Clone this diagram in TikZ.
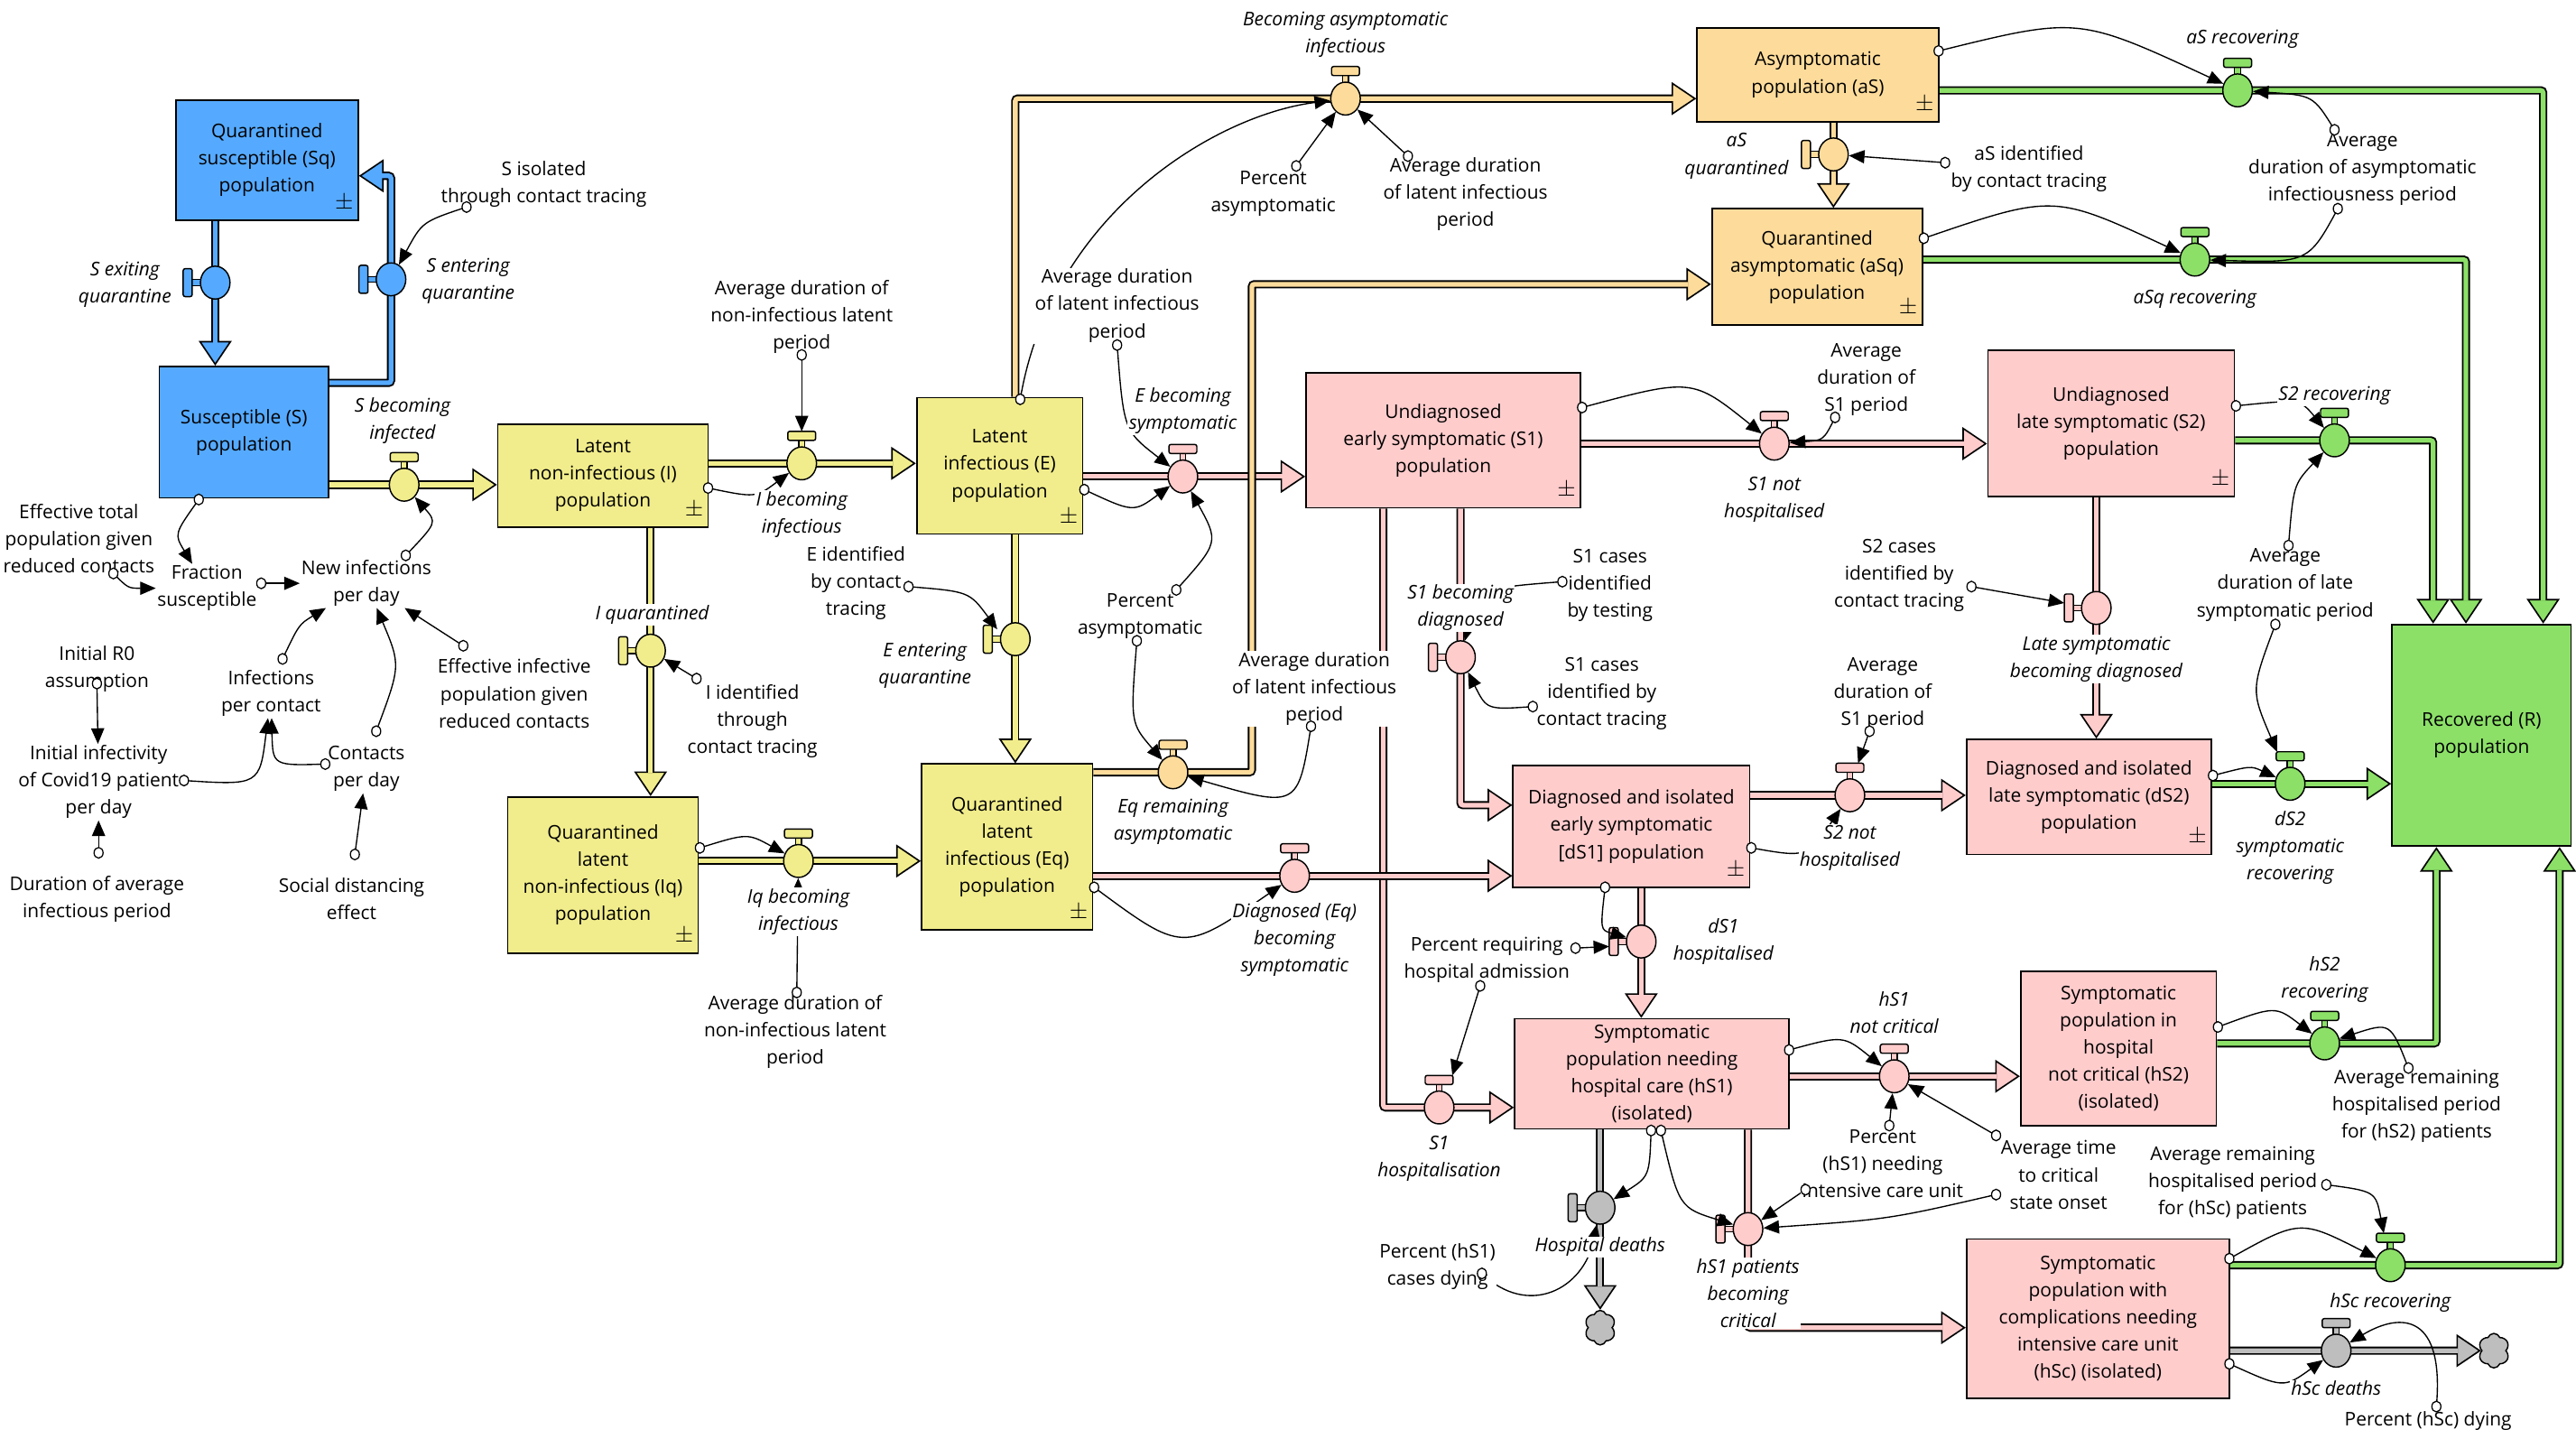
\documentclass[tikz,border=0pt]{standalone}
\usepackage{fontspec}
\setmainfont{Open Sans}
\usetikzlibrary{arrows.meta,shapes.geometric,shapes.symbols}
\pgfdeclarelayer{bg}
\pgfsetlayers{bg,main}

\definecolor{cblue}{RGB}{85,170,255}
\definecolor{cyel}{RGB}{241,237,140}
\definecolor{corg}{RGB}{253,220,155}
\definecolor{cpink}{RGB}{255,204,204}
\definecolor{cgreen}{RGB}{140,224,104}
\definecolor{cgray}{RGB}{190,190,190}

\newcommand\vfont{\fontsize{11.5}{16.5}\selectfont}
\newcommand\ffont{\fontsize{11.5}{16.5}\selectfont\itshape}

\tikzset{
 stock/.style={draw, line width=1pt, align=center, font=\vfont, inner sep=0pt},
 valve/.style={ellipse, draw, line width=0.8pt, minimum width=18pt, minimum height=20pt, inner sep=0pt},
 var/.style={align=center, font=\vfont, fill=white, inner sep=0.8pt},
 flab/.style={align=center, font=\ffont, fill=white, inner sep=0.8pt},
 link/.style={line width=0.75pt, -{Triangle[length=9.5pt,width=8pt]}},
 dot/.style={ellipse, draw, fill=white, line width=0.7pt, minimum width=5.5pt, minimum height=6.5pt, inner sep=0pt},
 pmark/.style={font=\fontsize{14}{14}\selectfont, inner sep=0pt},
 cloudy/.style={cloud, cloud puffs=6, cloud puff arc=140, aspect=1, draw, fill=cgray, line width=0.8pt, minimum width=19pt, minimum height=21pt, inner sep=0pt},
}

\newcommand\stock[7]{%
  \node[stock, fill=#6, minimum width={#4-#2}, minimum height={#5-#3}] (#1) at ({(#2+#4)/2},{(#3+#5)/2}) {#7};}
\newcommand\pmk[1]{\node[pmark] (#1-pm) at ([xshift=-9pt,yshift=11pt]#1.south east) {$\pm$};}
\newcommand\valveT[4]{%
  \draw[fill=#4, line width=0.7pt] ({#2-1.8},{#3-9}) rectangle ({#2+1.8},{#3-14.5});
  \draw[fill=#4, line width=0.8pt, rounded corners=1.2pt] ({#2-8.5},{#3-14}) rectangle ({#2+8.5},{#3-19.5});
  \node[valve, fill=#4] (#1) at (#2,#3) {};}
\newcommand\valveL[4]{%
  \draw[fill=#4, line width=0.7pt] ({#2-8},{#3-1.8}) rectangle ({#2-14.5},{#3+1.8});
  \draw[fill=#4, line width=0.8pt, rounded corners=1.2pt] ({#2-14},{#3-8.5}) rectangle ({#2-19.5},{#3+8.5});
  \node[valve, fill=#4] (#1) at (#2,#3) {};}
\newcommand\flowpipe[2]{%
  \draw[line width=5pt, black, rounded corners=1.5pt, -{Triangle[length=15pt,width=20pt,fill=#1,line width=0.9pt]}] #2;
  \draw[line width=2.9pt, #1, rounded corners=1.5pt, shorten >=14pt] #2;}

\begin{document}
\begin{tikzpicture}[x=1pt,y=-1pt]
\useasboundingbox (0,0) rectangle (1568,881);
\begin{pgfonlayer}{bg}
\fill[white] (0,0) rectangle (1568,881);
\end{pgfonlayer}

% ---------- stocks ----------
\stock{Sq}{107}{61}{218}{134}{cblue}{Quarantined\\susceptible (Sq)\\population}\pmk{Sq}
\stock{S}{97}{223}{200}{303}{cblue}{Susceptible (S)\\population}
\stock{I}{303}{258}{431}{321}{cyel}{Latent\\non-infectious (I)\\population}\pmk{I}
\stock{E}{558}{242}{659}{325}{cyel}{Latent\\infectious (E)\\population}\pmk{E}
\stock{Iq}{309}{485}{425}{580}{cyel}{Quarantined\\latent\\non-infectious (Iq)\\population}\pmk{Iq}
\stock{Eq}{561}{465}{665}{566}{cyel}{Quarantined\\latent\\infectious (Eq)\\population}\pmk{Eq}
\stock{aS}{1033}{17}{1180}{74}{corg}{Asymptomatic\\population (aS)}\pmk{aS}
\stock{aSq}{1042}{127}{1170}{198}{corg}{Quarantined\\asymptomatic (aSq)\\population}\pmk{aSq}
\stock{S1}{795}{227}{962}{309}{cpink}{Undiagnosed\\early symptomatic (S1)\\population}\pmk{S1}
\stock{S2}{1210}{213}{1360}{302}{cpink}{Undiagnosed\\late symptomatic (S2)\\population}\pmk{S2}
\stock{dS1}{921}{466}{1065}{540}{cpink}{Diagnosed and isolated\\early symptomatic\\{}[dS1] population}\pmk{dS1}
\stock{dS2}{1197}{450}{1346}{520}{cpink}{Diagnosed and isolated\\late symptomatic (dS2)\\population}\pmk{dS2}
\stock{hS1}{922}{620}{1089}{687}{cpink}{Symptomatic\\population needing\\hospital care (hS1)\\(isolated)}
\stock{hS2}{1230}{591}{1349}{685}{cpink}{Symptomatic\\population in\\hospital\\not critical (hS2)\\(isolated)}
\stock{hSc}{1197}{754}{1357}{851}{cpink}{Symptomatic\\population with\\complications needing\\intensive care unit\\(hSc) (isolated)}
\stock{R}{1456}{380}{1565}{515}{cgreen}{Recovered (R)\\population}

% ---------- valves ----------
\valveL{vSexit}{131}{172}{cblue}
\valveL{vSent}{238}{170}{cblue}
\valveT{vSinf}{246}{295}{cyel}
\valveT{vIinf}{488}{282}{cyel}
\valveL{vIq}{396}{396}{cyel}
\valveT{vIqinf}{486}{524}{cyel}
\valveL{vEent}{618}{389}{cyel}
\valveT{vBasym}{819}{60}{corg}
\valveT{vEsym}{720}{290}{cpink}
\valveT{vEqrem}{714}{470}{corg}
\valveT{vDEq}{788}{533}{cpink}
\valveL{vaSq}{1116}{94}{corg}
\valveT{vaSrec}{1362}{55}{cgreen}
\valveT{vaSqrec}{1336}{158}{cgreen}
\valveT{vS1nh}{1080}{270}{cpink}
\valveT{vS2rec}{1421}{268}{cgreen}
\valveL{vLate}{1276}{370}{cpink}
\valveT{vdS2rec}{1394}{477}{cgreen}
\valveL{vS1diag}{889}{400}{cpink}
\valveT{vS1hosp}{876}{674}{cpink}
\valveT{vS2nh}{1126}{484}{cpink}
\valveL{vdS1h}{999}{573}{cpink}
\valveT{vhS1nc}{1153}{655}{cpink}
\valveT{vhS2rec}{1415}{635}{cgreen}
\valveT{vhScrec}{1455}{770}{cgreen}
\valveT{vhScd}{1422}{822}{cgray}
\valveL{vHd}{974}{735}{cgray}
\valveL{vhS1c}{1064}{748}{cpink}

\node[cloudy] (cl1) at (974,808) {};
\node[cloudy] (cl2) at (1518,822) {};

% ---------- bend points ----------
\coordinate (kEq) at (762,173);
\coordinate (kaS) at (1548,55);
\coordinate (kaSq) at (1501,158);
\coordinate (kS2) at (1481,268);
\coordinate (kS1d) at (889,490);
\coordinate (kS1h) at (842,674);
\coordinate (khS2) at (1483,635);
\coordinate (khSc) at (1558,770);
\coordinate (kSc) at (1064,808);

% ---------- pipes ----------
\begin{pgfonlayer}{bg}
\flowpipe{cblue}{(vSexit |- Sq.south) -- (vSexit |- S.north)}
\flowpipe{cblue}{(S.east |- 0,233) -- (vSent |- 0,233) -- (vSent |- 0,107) -- (Sq.east |- 0,107)}
\flowpipe{cyel}{(S.east |- vSinf) -- (I.west |- vSinf)}
\flowpipe{cyel}{(I.east |- vIinf) -- (E.west |- vIinf)}
\flowpipe{cyel}{(vIq |- I.south) -- (vIq |- Iq.north)}
\flowpipe{cyel}{(Iq.east |- vIqinf) -- (Eq.west |- vIqinf)}
\flowpipe{cyel}{(vEent |- E.south) -- (vEent |- Eq.north)}
\flowpipe{corg}{(vEent |- E.north) -- (vEent |- vBasym) -- (aS.west |- vBasym)}
\flowpipe{cpink}{(E.east |- vEsym) -- (S1.west |- vEsym)}
\flowpipe{corg}{(Eq.east |- vEqrem) -- (kEq |- vEqrem) -- (kEq) -- (aSq.west |- kEq)}
\flowpipe{cpink}{(kS1h |- S1.south) -- (kS1h) -- (hS1.west |- kS1h)}
\flowpipe{cpink}{(Eq.east |- vDEq) -- (dS1.west |- vDEq)}
\flowpipe{corg}{(vaSq |- aS.south) -- (vaSq |- aSq.north)}
\flowpipe{cgreen}{(aS.east |- vaSrec) -- (kaS) -- (kaS |- R.north)}
\flowpipe{cgreen}{(aSq.east |- vaSqrec) -- (kaSq) -- (kaSq |- R.north)}
\flowpipe{cpink}{(S1.east |- vS1nh) -- (S2.west |- vS1nh)}
\flowpipe{cgreen}{(S2.east |- vS2rec) -- (kS2) -- (kS2 |- R.north)}
\flowpipe{cpink}{(vLate |- S2.south) -- (vLate |- dS2.north)}
\flowpipe{cgreen}{(dS2.east |- vdS2rec) -- (R.west |- vdS2rec)}
\flowpipe{cpink}{(vS1diag |- S1.south) -- (kS1d) -- (dS1.west |- kS1d)}
\flowpipe{cpink}{(dS1.east |- vS2nh) -- (dS2.west |- vS2nh)}
\flowpipe{cpink}{(vdS1h |- dS1.south) -- (vdS1h |- hS1.north)}
\flowpipe{cpink}{(hS1.east |- vhS1nc) -- (hS2.west |- vhS1nc)}
\flowpipe{cgreen}{(hS2.east |- vhS2rec) -- (khS2) -- (khS2 |- R.south)}
\flowpipe{cgreen}{(hSc.east |- vhScrec) -- (khSc) -- (khSc |- R.south)}
\flowpipe{cgray}{(hSc.east |- vhScd) -- (cl2.west)}
\flowpipe{cgray}{(vHd |- hS1.south) -- (cl1.north)}
\flowpipe{cpink}{(vhS1c |- hS1.south) -- (kSc) -- (hSc.west |- kSc)}
\end{pgfonlayer}

% ---------- link start points ----------
\coordinate (cS) at (121,304);
\coordinate (cEffTot) at (69,349);
\coordinate (cFrac) at (159,355);
\coordinate (cIpc) at (172,401);
\coordinate (cCpd1) at (229,445);
\coordinate (cEffInf) at (282,393);
\coordinate (cNewInf) at (247,338);
\coordinate (cR0) at (59,416);
\coordinate (cInfect) at (112,475);
\coordinate (cCpd2) at (198,465);
\coordinate (cDur) at (60,519);
\coordinate (cSoc) at (216,520);
\coordinate (cSIso) at (284,126);
\coordinate (cI) at (431,297);
\coordinate (cNI1) at (488,216);
\coordinate (cIid) at (424,413);
\coordinate (cIq) at (426,516);
\coordinate (cNI2) at (485,604);
\coordinate (cEid) at (553,357);
\coordinate (cEtop) at (621,243);
\coordinate (cPA1) at (789,101);
\coordinate (cAL1) at (857,95);
\coordinate (cAL2) at (680,210);
\coordinate (cEr) at (660,298);
\coordinate (cPA2a) at (716,359);
\coordinate (cPA2b) at (692,390);
\coordinate (cAL3) at (798,442);
\coordinate (cEq) at (666,540);
\coordinate (caS) at (1180,31);
\coordinate (cAsA) at (1421,79);
\coordinate (cAsB) at (1423,127);
\coordinate (caSq) at (1171,145);
\coordinate (caSid) at (1184,99);
\coordinate (cS1r) at (963,248);
\coordinate (cS1a) at (1117,254);
\coordinate (cS2r) at (1361,247);
\coordinate (cLateA) at (1393,332);
\coordinate (cLateB) at (1385,380);
\coordinate (cdS2) at (1347,472);
\coordinate (cS2ct) at (1200,357);
\coordinate (cS1t) at (951,354);
\coordinate (cS1c) at (933,430);
\coordinate (cPH1) at (959,577);
\coordinate (cPH2) at (901,600);
\coordinate (cdS1b) at (977,540);
\coordinate (cdS1r) at (1066,516);
\coordinate (cS1b) at (1138,445);
\coordinate (chS1r) at (1089,639);
\coordinate (cICUa) at (1150,685);
\coordinate (cCrA) at (1215,691);
\coordinate (cCrB) at (1215,727);
\coordinate (cICUb) at (1099,724);
\coordinate (chS1a) at (1005,688);
\coordinate (chS1b) at (1011,688);
\coordinate (cPD1) at (902,775);
\coordinate (chS2) at (1350,625);
\coordinate (cHS2) at (1466,650);
\coordinate (chSc) at (1357,766);
\coordinate (cHSc) at (1416,721);
\coordinate (chScb) at (1357,830);
\coordinate (cPD2) at (1483,856);

% ---------- variable texts (need to exist before links) ----------
\node[var] (sIso) at (331,112) {S isolated\\through contact tracing};
\node[var] (effTot) at (48,328) {Effective total\\population given\\reduced contacts};
\node[var] (frac) at (126,358) {Fraction\\susceptible};
\node[var] (newInf) at (223,355) {New infections\\per day};
\node[var] (r0) at (59,407) {Initial R0\\assumption};
\node[var] (ipc) at (165,422) {Infections\\per contact};
\node[var] (effInf) at (313,422) {Effective infective\\population given\\reduced contacts};
\node[var] (infect) at (60,476) {Initial infectivity\\of Covid19 patient\\per day};
\node[var] (cpd) at (223,468) {Contacts\\per day};
\node[var] (durAvg) at (59,547) {Duration of average\\infectious period};
\node[var] (social) at (214,547) {Social distancing\\effect};

% ---------- links ----------
\draw[link] (cS) .. controls (106,325) .. (frac);
\draw[link] (cEffTot) .. controls (78,358) .. (frac.west);
\draw[link] (cFrac) -- (newInf);
\draw[link] (cIpc) .. controls (182,380) .. (newInf);
\draw[link] (cCpd1) .. controls (244,405) .. (newInf);
\draw[link] (cEffInf) -- (newInf);
\draw[link] (cNewInf) .. controls (266,318) .. (vSinf);
\draw[link] (cR0) -- (infect);
\draw[link] (cInfect) .. controls (158,478) .. (ipc);
\draw[link] (cCpd2) .. controls (166,466) .. (ipc);
\draw[link] (cDur) -- (infect);
\draw[link] (cSoc) -- (cpd);
\draw[link] (cSIso) .. controls (257,135) .. (vSent);
\draw[link] (cI) .. controls (460,303) .. (vIinf);
\draw[link] (cNI1) -- ([yshift=19.5pt]vIinf.center);
\draw[link] (cIid) -- (vIq);
\draw[link] (cIq) .. controls (455,507) .. (vIqinf);
\draw[link] (cNI2) -- (vIqinf);
\draw[link] (cEid) .. controls (590,360) .. ([xshift=-11pt,yshift=6pt]vEent.center);
\draw[link] (cEtop) .. controls (640,130) and (740,70) .. (vBasym);
\draw[link] (cPA1) -- (vBasym);
\draw[link] (cAL1) -- (vBasym);
\draw[link] (cAL2) .. controls (684,262) .. (vEsym);
\draw[link] (cEr) .. controls (690,312) .. (vEsym);
\draw[link] (cPA2a) .. controls (742,330) .. (vEsym);
\draw[link] (cPA2b) .. controls (688,440) .. (vEqrem);
\draw[link] (cAL3) .. controls (790,492) .. (vEqrem);
\draw[link] (cEq) .. controls (720,580) .. (vDEq);
\draw[link] (caS) .. controls (1265,10) .. (vaSrec);
\draw[link] (cAsA) .. controls (1408,58) .. (vaSrec);
\draw[link] (cAsB) .. controls (1405,160) .. (vaSqrec);
\draw[link] (caSq) .. controls (1250,118) .. (vaSqrec);
\draw[link] (caSid) -- (vaSq);
\draw[link] (cS1r) .. controls (1030,230) .. (vS1nh);
\draw[link] (cS1a) .. controls (1110,268) .. (vS1nh);
\draw[link] (cS2r) .. controls (1400,243) .. (vS2rec);
\draw[link] (cLateA) .. controls (1396,295) .. (vS2rec);
\draw[link] (cLateB) .. controls (1370,420) .. ([xshift=-8pt,yshift=19.5pt]vdS2rec.center);
\draw[link] (cdS2) .. controls (1370,466) .. (vdS2rec);
\draw[link] (cS2ct) -- ([xshift=-19.5pt,yshift=3pt]vLate.center);
\draw[link] (cS1t) .. controls (900,358) .. (vS1diag);
\draw[link] (cS1c) .. controls (905,432) .. (vS1diag);
\draw[link] (cPH1) -- ([xshift=-19.5pt,yshift=-3pt]vdS1h.center);
\draw[link] (cPH2) -- ([xshift=8pt,yshift=19.5pt]vS1hosp.center);
\draw[link] (cdS1b) .. controls (974,566) .. (vdS1h);
\draw[link] (cdS1r) .. controls (1100,522) .. (vS2nh);
\draw[link] (cS1b) -- ([xshift=5pt,yshift=19.5pt]vS2nh.center);
\draw[link] (chS1r) .. controls (1122,630) .. (vhS1nc);
\draw[link] (cICUa) -- (vhS1nc);
\draw[link] (cCrA) -- (vhS1nc);
\draw[link] (cCrB) .. controls (1150,742) .. (vhS1c);
\draw[link] (cICUb) -- (vhS1c);
\draw[link] (chS1a) .. controls (1004,716) .. (vHd);
\draw[link] (chS1b) .. controls (1022,735) .. (vhS1c);
\draw[link] (cPD1) .. controls (930,802) and (964,785) .. (vHd);
\draw[link] (chS2) .. controls (1385,612) .. (vhS2rec);
\draw[link] (cHS2) .. controls (1455,622) .. (vhS2rec);
\draw[link] (chSc) .. controls (1400,742) .. (vhScrec);
\draw[link] (cHSc) .. controls (1446,725) .. ([xshift=-4pt,yshift=19.5pt]vhScrec.center);
\draw[link] (chScb) .. controls (1390,845) .. (vhScd);
\draw[link] (cPD2) .. controls (1488,800) and (1462,798) .. (vhScd);

% ---------- other variable texts ----------
\node[var] (avgNI1) at (488,193) {Average duration of\\non-infectious latent\\period};
\node[var] (iIdent) at (458,439) {I identified\\through\\contact tracing};
\node[var] (avgNI2) at (484,628) {Average duration of\\non-infectious latent\\period};
\node[var] (eIdent) at (521,355) {E identified\\by contact\\tracing};
\node[var] (pctA1) at (775,118) {Percent\\asymptomatic};
\node[var] (avgL1) at (892,118) {Average duration\\of latent infectious\\period};
\node[var] (avgL2) at (680,186) {Average duration\\of latent infectious\\period};
\node[var] (pctA2) at (694,375) {Percent\\asymptomatic};
\node[var] (avgL3) at (800,419) {Average duration\\of latent infectious\\period};
\node[var] (aSid) at (1235,103) {aS identified\\by contact tracing};
\node[var] (avgAs) at (1438,103) {Average\\duration of asymptomatic\\infectiousness period};
\node[var] (avgS1a) at (1136,231) {Average\\duration of\\S1 period};
\node[var] (s1test) at (980,356) {S1 cases\\identified\\by testing};
\node[var] (s1ct) at (975,422) {S1 cases\\identified by\\contact tracing};
\node[var] (s2ct) at (1156,350) {S2 cases\\identified by\\contact tracing};
\node[var] (avgLate) at (1391,356) {Average\\duration of late\\symptomatic period};
\node[var] (avgS1b) at (1146,422) {Average\\duration of\\S1 period};
\node[var] (pctHosp) at (905,584) {Percent requiring\\hospital admission};
\node[var] (pctICU) at (1146,708) {Percent\\(hS1) needing\\intensive care unit};
\node[var] (avgCrit) at (1253,715) {Average time\\to critical\\state onset};
\node[var] (avgHS2) at (1471,673) {Average remaining\\hospitalised period\\for (hS2) patients};
\node[var] (avgHSc) at (1359,720) {Average remaining\\hospitalised period\\for (hSc) patients};
\node[var] (pctD1) at (875,771) {Percent (hS1)\\cases dying};
\node[var] (pctD2) at (1478,865) {Percent (hSc) dying};

% ---------- flow labels ----------
\node[flab] (lSexit) at (76,173) {S exiting\\quarantine};
\node[flab] (lSent) at (285,171) {S entering\\quarantine};
\node[flab] (lSinf) at (245,256) {S becoming\\infected};
\node[flab] (lIinf) at (488,313) {I becoming\\infectious};
\node[flab] (lIq) at (397,374) {I quarantined};
\node[flab] (lEent) at (563,405) {E entering\\quarantine};
\node[flab] (lIqinf) at (486,555) {Iq becoming\\infectious};
\node[flab] (lBasym) at (819,21) {Becoming asymptomatic\\infectious};
\node[flab] (lEsym) at (720,250) {E becoming\\symptomatic};
\node[flab] (lEqrem) at (714,500) {Eq remaining\\asymptomatic};
\node[flab] (lDEq) at (788,572) {Diagnosed (Eq)\\becoming\\symptomatic};
\node[flab] (laSq) at (1057,95) {aS\\quarantined};
\node[flab] (laSrec) at (1365,24) {aS recovering};
\node[flab] (laSqrec) at (1336,182) {aSq recovering};
\node[flab] (lS1nh) at (1080,304) {S1 not\\hospitalised};
\node[flab] (lS2rec) at (1421,241) {S2 recovering};
\node[flab] (lLate) at (1276,401) {Late symptomatic\\becoming diagnosed};
\node[flab] (ldS2rec) at (1394,516) {dS2\\symptomatic\\recovering};
\node[flab] (lS1diag) at (889,370) {S1 becoming\\diagnosed};
\node[flab] (lS1hosp) at (876,705) {S1\\hospitalisation};
\node[flab] (lS2nh) at (1126,516) {S2 not\\hospitalised};
\node[flab] (ldS1h) at (1049,573) {dS1\\hospitalised};
\node[flab] (lhS1nc) at (1153,616) {hS1\\not critical};
\node[flab] (lhS2rec) at (1415,596) {hS2\\recovering};
\node[flab] (lhScrec) at (1455,793) {hSc recovering};
\node[flab] (lhScd) at (1422,845) {hSc deaths};
\node[flab] (lHd) at (974,759) {Hospital deaths};
\node[flab] (lhS1c) at (1064,787) {hS1 patients\\becoming\\critical};

% ---------- link start circles ----------
\foreach \c in {cS,cEffTot,cFrac,cIpc,cCpd1,cEffInf,cNewInf,cR0,cInfect,cCpd2,cDur,cSoc,
  cSIso,cI,cNI1,cIid,cIq,cNI2,cEid,cEtop,cPA1,cAL1,cAL2,cEr,cPA2a,cPA2b,cAL3,cEq,
  caS,cAsA,cAsB,caSq,caSid,cS1r,cS1a,cS2r,cLateA,cLateB,cdS2,cS2ct,cS1t,cS1c,cPH1,cPH2,
  cdS1b,cdS1r,cS1b,chS1r,cICUa,cCrA,cCrB,cICUb,chS1a,chS1b,cPD1,chS2,cHS2,chSc,cHSc,chScb,cPD2}
  {\node[dot] (d-\c) at (\c) {};}
\end{tikzpicture}
\end{document}
